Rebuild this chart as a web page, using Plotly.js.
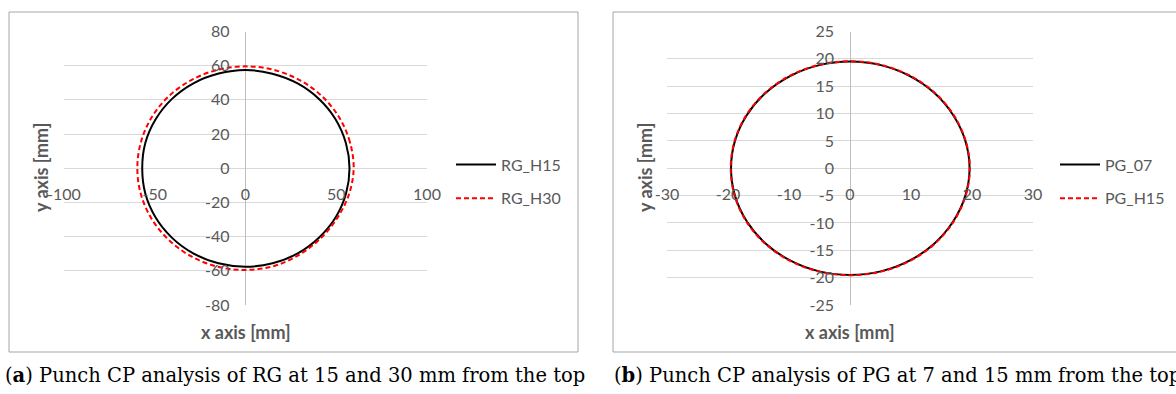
<!DOCTYPE html>
<html>
<head>
<meta charset="utf-8">
<script src="https://cdn.plot.ly/plotly-3.0.1.min.js"></script>
<style>html,body{margin:0;padding:0;background:#fff;}#chart{width:1176px;height:394px;}</style>
</head>
<body>
<div id="chart"></div>
<script>
// Panel (a): RG contours (mm)
const rgH15X = [57.3, 55.3, 49.6, 40.5, 28.7, 14.8, 0, -14.8, -28.7, -40.5, -49.5, -55.2, -56.9, -55.2, -49.6, -40.6, -28.8, -14.9, 0, 14.9, 28.8, 40.6, 49.7, 55.4, 57.3];
const rgH15Y = [0, 14.8, 28.7, 40.5, 49.6, 55.3, 57.5, 55.4, 49.7, 40.6, 28.7, 14.8, 0, -14.8, -28.7, -40.6, -49.8, -55.6, -57.6, -55.6, -49.8, -40.5, -28.7, -14.8, 0];
const rgH30X = [59.6, 57.5, 51.6, 42.1, 29.8, 15.4, 0, -15.4, -29.8, -42.2, -51.7, -57.6, -59.6, -57.6, -51.6, -42.1, -29.8, -15.4, 0, 15.3, 29.3, 41.2, 50.5, 57.0, 59.6];
const rgH30Y = [0, 15.4, 29.8, 42.2, 51.6, 57.6, 59.6, 57.6, 51.6, 42.2, 29.8, 15.4, 0, -15.4, -29.8, -42.1, -51.6, -57.6, -59.5, -57.3, -50.8, -41.2, -29.2, -15.3, 0];
// Panel (b): PG contours (mm)
const pg07X = [19.6, 18.9, 16.9, 13.8, 9.75, 5.05, 0, -5.05, -9.75, -13.8, -16.9, -18.85, -19.5, -18.85, -16.9, -13.8, -9.75, -5.05, 0, 5.05, 9.75, 13.8, 16.9, 18.9, 19.6];
const pg07Y = [0, 5.05, 9.75, 13.8, 16.9, 18.85, 19.5, 18.85, 16.9, 13.8, 9.75, 5.05, 0, -5.05, -9.75, -13.8, -16.9, -18.85, -19.5, -18.85, -16.9, -13.8, -9.75, -5.05, 0];
const pgH15X = [19.65, 18.95, 16.95, 13.85, 9.8, 5.07, 0, -5.07, -9.8, -13.85, -16.95, -18.9, -19.55, -18.9, -16.95, -13.85, -9.8, -5.07, 0, 5.07, 9.8, 13.85, 16.95, 18.95, 19.65];
const pgH15Y = [0, 5.07, 9.8, 13.85, 16.95, 18.9, 19.55, 18.9, 16.95, 13.85, 9.8, 5.07, 0, -5.07, -9.8, -13.85, -16.95, -18.9, -19.55, -18.9, -16.95, -13.85, -9.8, -5.07, 0];

const rgXTicks = [-100, -50, 0, 50, 100];
const rgYTicks = [-80, -60, -40, -20, 0, 20, 40, 60, 80];
const pgXTicks = [-30, -20, -10, 0, 10, 20, 30];
const pgYTicks = [-25, -20, -15, -10, -5, 0, 5, 10, 15, 20, 25];

const W = 1176, H = 394;
const px = v => v / W;
const py = v => (H - v) / H;

const tickFont = {family: 'Lato, "Open Sans", sans-serif', size: 16, color: '#595959'};
const titleFont = {family: 'Lato, "Open Sans", sans-serif', size: 18, color: '#595959', weight: 'bold'};
const capFont = {family: '"DejaVu Serif", "Liberation Serif", serif', size: 19.5, color: '#000'};

const yDom = [py(305), py(31.5)];
const aDom = [px(64), px(427)];
const bDom = [px(667), px(1033)];
const yMid = (yDom[0] + yDom[1]) / 2;

function line(x, y, name, color, dash, xa, ya, leg) {
  return {x: x, y: y, name: name, legendgroup: name, type: 'scatter', mode: 'lines', xaxis: xa, yaxis: ya, legend: leg,
    line: {color: color, width: 2, dash: dash, shape: 'spline', smoothing: 1}, hoverinfo: 'skip'};
}

const data = [
  line(rgH15X, rgH15Y, 'RG_H15', '#000000', 'solid', 'x', 'y', 'legend'),
  line(rgH30X, rgH30Y, 'RG_H30', '#ff0000', '5px,3px', 'x', 'y', 'legend'),
  line(pg07X, pg07Y, 'PG_07', '#000000', 'solid', 'x2', 'y2', 'legend2'),
  line(pgH15X, pgH15Y, 'PG_H15', '#ff0000', '5px,3px', 'x2', 'y2', 'legend2')
];

function xax(dom, ticks, rng) {
  return {domain: dom, range: rng, tickvals: ticks, ticktext: ticks.map(String), showgrid: false,
    zeroline: true, zerolinecolor: '#bfbfbf', zerolinewidth: 1, showline: false, ticks: '',
    anchor: 'free', position: yMid, ticklabelstandoff: 15, tickfont: tickFont, fixedrange: true};
}
function yax(dom, ticks, rng, pos) {
  return {domain: yDom, range: rng, tickvals: ticks, ticktext: ticks.map(String), showgrid: true,
    gridcolor: '#d9d9d9', gridwidth: 1, zeroline: false, showline: false, ticks: '',
    anchor: 'free', position: pos, ticklabelstandoff: 16, tickfont: tickFont, fixedrange: true};
}

const legFont = {family: tickFont.family, size: 16, color: '#595959'};
const layout = {
  width: W, height: H, margin: {l: 0, r: 0, t: 0, b: 0},
  paper_bgcolor: '#ffffff', plot_bgcolor: 'rgba(0,0,0,0)', showlegend: true,
  xaxis: xax(aDom, rgXTicks, [-100, 100]),
  yaxis: yax(yDom, rgYTicks, [-80, 80], (aDom[0] + aDom[1]) / 2),
  xaxis2: xax(bDom, pgXTicks, [-30, 30]),
  yaxis2: yax(yDom, pgYTicks, [-25, 25], (bDom[0] + bDom[1]) / 2),
  legend: {x: px(451), y: py(181.5), xanchor: 'left', yanchor: 'middle', font: legFont, traceorder: 'grouped',
    bgcolor: 'rgba(0,0,0,0)', tracegroupgap: 10, itemwidth: 40},
  legend2: {x: px(1055), y: py(181.5), xanchor: 'left', yanchor: 'middle', font: legFont, traceorder: 'grouped',
    bgcolor: 'rgba(0,0,0,0)', tracegroupgap: 10, itemwidth: 40},
  shapes: [
    {type: 'rect', xref: 'paper', yref: 'paper', x0: px(9), x1: px(578), y0: py(352), y1: py(12), line: {color: '#a6a6a6', width: 1}},
    {type: 'rect', xref: 'paper', yref: 'paper', x0: px(613), x1: px(1180), y0: py(352), y1: py(12), line: {color: '#a6a6a6', width: 1}}
  ],
  annotations: [
    {xref: 'paper', yref: 'paper', x: px(41), y: py(168), xanchor: 'center', yanchor: 'middle', text: 'y axis [mm]', textangle: -90, showarrow: false, font: titleFont},
    {xref: 'paper', yref: 'paper', x: px(245.5), y: py(332), xanchor: 'center', yanchor: 'middle', text: 'x axis [mm]', showarrow: false, font: titleFont},
    {xref: 'paper', yref: 'paper', x: px(645), y: py(168), xanchor: 'center', yanchor: 'middle', text: 'y axis [mm]', textangle: -90, showarrow: false, font: titleFont},
    {xref: 'paper', yref: 'paper', x: px(850), y: py(332), xanchor: 'center', yanchor: 'middle', text: 'x axis [mm]', showarrow: false, font: titleFont},
    {xref: 'paper', yref: 'paper', x: px(3), y: py(375), xanchor: 'left', yanchor: 'middle', text: '(<b>a</b>) Punch CP analysis of RG at 15 and 30 mm from the top', showarrow: false, font: capFont},
    {xref: 'paper', yref: 'paper', x: px(612), y: py(375), xanchor: 'left', yanchor: 'middle', text: '(<b>b</b>) Punch CP analysis of PG at 7 and 15 mm from the top', showarrow: false, font: capFont}
  ]
};

Plotly.newPlot('chart', data, layout, {displayModeBar: false, staticPlot: true});
</script>
</body>
</html>
